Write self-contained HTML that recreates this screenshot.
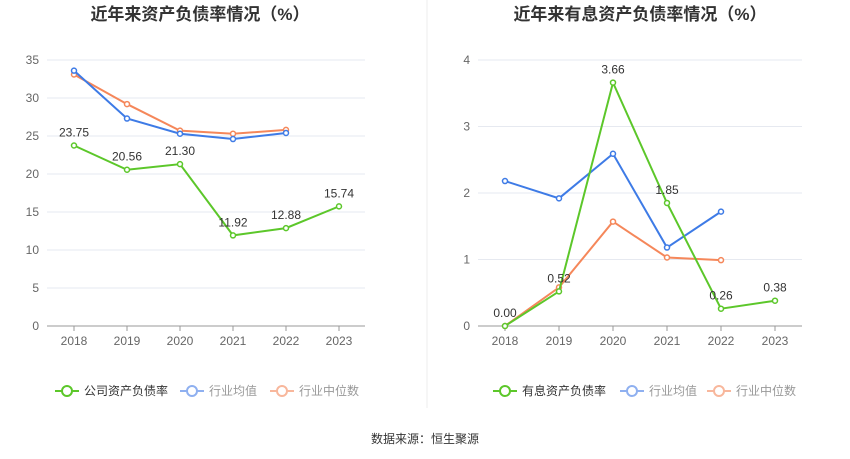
<!DOCTYPE html>
<html><head><meta charset="utf-8"><style>
body{margin:0;background:#fff;}
svg{display:block;font-family:"Liberation Sans","Noto Sans CJK SC",sans-serif;}
</style></head><body>
<svg id="c" width="850" height="459" xmlns="http://www.w3.org/2000/svg">
<line x1="427" y1="0" x2="427" y2="408" stroke="#eeeeee"/>
<text x="200" y="20" text-anchor="middle" font-size="17" font-weight="bold" fill="#333">近年来资产负债率情况（%）</text>
<text x="640" y="20" text-anchor="middle" font-size="17" font-weight="bold" fill="#333">近年来有息资产负债率情况（%）</text>
<text x="425" y="443" text-anchor="middle" font-size="12" fill="#333">数据来源：恒生聚源</text>
</svg>
<script>
const categories=["2018","2019","2020","2021","2022","2023"];
const leftCompany=[23.75,20.56,21.30,11.92,12.88,15.74];
const leftAvg=[33.6,27.3,25.3,24.6,25.4];
const leftMedian=[33.1,29.2,25.7,25.3,25.8];
const leftTicks=[0,5,10,15,20,25,30,35];
const rightCompany=[0.00,0.52,3.66,1.85,0.26,0.38];
const rightAvg=[2.18,1.92,2.59,1.18,1.72];
const rightMedian=[0.0,0.58,1.57,1.03,0.99];
const rightTicks=[0,1,2,3,4];
const svg=document.getElementById('c');
const NS="http://www.w3.org/2000/svg";
function mk(t,a,txt){const e=document.createElementNS(NS,t);for(const k in a)e.setAttribute(k,a[k]);if(txt!=null)e.textContent=txt;svg.appendChild(e);return e;}
const G="#5cc72a",B="#3e7be6",O="#f5875a";
function chart(p,o){
 const y=v=>326-(v-0)/(o.max)*266;
 const x=i=>o.x0+i*o.dx;
 o.ticks.forEach(t=>{
  const g=mk('line',{x1:o.l,x2:o.r,y1:y(t),y2:y(t),stroke:t===0?'#999':'#e6e9f0'});
  
  const tl=mk('text',{x:o.l-8,y:y(t)+4,'text-anchor':'end','font-size':12,fill:'#666'},o.fmt(t));
  
 });
 categories.forEach((c,i)=>{
  const tk=mk('line',{x1:x(i),x2:x(i),y1:326,y2:331,stroke:'#999'});
  
  const tl=mk('text',{x:x(i),y:345,'text-anchor':'middle','font-size':12,fill:'#666'},c);
  
 });
 [[o.med,O,'median'],[o.avg,B,'average'],[o.comp,G,'company']].forEach(([d,col,n])=>{
  const pl=mk('polyline',{points:d.map((v,i)=>x(i)+','+y(v)).join(' '),fill:'none',stroke:col,'stroke-width':2});
  
  d.forEach((v,i)=>{
   const c=mk('circle',{cx:x(i),cy:y(v),r:2.5,fill:'#fff',stroke:col,'stroke-width':1.5});
   
   if(n==='company'){
    const t=mk('text',{x:x(i),y:y(v)-9,'text-anchor':'middle','font-size':12,fill:'#333'},v.toFixed(2));
    
   }
  });
 });
 o.legend.forEach(([lx,col,txt,tc])=>{
  const l=mk('line',{x1:lx,x2:lx+24,y1:391,y2:391,stroke:col,'stroke-width':2});
  
  const c=mk('circle',{cx:lx+12,cy:391,r:5,fill:'#fff',stroke:col,'stroke-width':2});
  
  const t=mk('text',{x:lx+29,y:395,'font-size':12,fill:tc},txt);
  
 });
}
chart('left',{max:35,ticks:leftTicks,x0:74,dx:53,l:47,r:365,comp:leftCompany,avg:leftAvg,med:leftMedian,fmt:t=>String(t),
 legend:[[55,G,'公司资产负债率','#333'],[180,'#8fb0f0','行业均值','#999'],[270,'#f8b79c','行业中位数','#999']]});
chart('right',{max:4,ticks:rightTicks,x0:505,dx:54,l:478,r:802,comp:rightCompany,avg:rightAvg,med:rightMedian,fmt:t=>String(t),
 legend:[[493,G,'有息资产负债率','#333'],[620,'#8fb0f0','行业均值','#999'],[707,'#f8b79c','行业中位数','#999']]});
</script>
</body></html>
